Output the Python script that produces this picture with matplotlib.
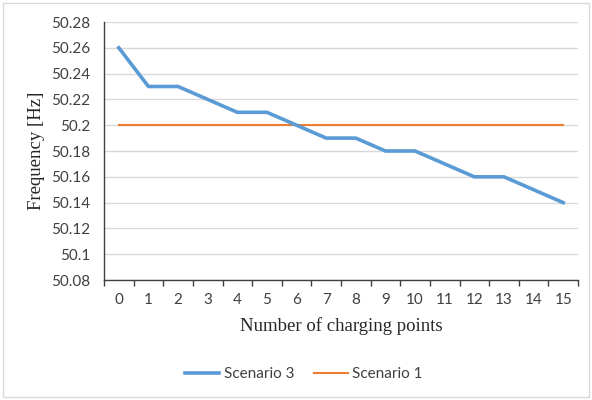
import numpy as np
import matplotlib
matplotlib.use("Agg")
import matplotlib.pyplot as plt
from matplotlib.patches import Rectangle

# charging points on the category axis
points = list(range(16))
scenario_3 = [50.26, 50.23, 50.23, 50.22, 50.21, 50.21, 50.20, 50.19,
              50.19, 50.18, 50.18, 50.17, 50.16, 50.16, 50.15, 50.14]
scenario_1 = [50.20] * 16
y_ticks = [50.08, 50.10, 50.12, 50.14, 50.16, 50.18, 50.20, 50.22, 50.24, 50.26, 50.28]
y_tick_labels = ["50.08", "50.1", "50.12", "50.14", "50.16", "50.18",
                 "50.2", "50.22", "50.24", "50.26", "50.28"]

BLUE = "#5B9BD5"
ORANGE = "#ED7D31"
SANS = ["Lato", "DejaVu Sans"]
SERIF = ["Liberation Serif", "DejaVu Serif"]

fig = plt.figure(figsize=(5.92, 4.0), dpi=100, facecolor="white")
ax = fig.add_axes([104 / 592, 1 - 280 / 400, (578 - 104) / 592, (280 - 22) / 400])

# outer chart border
fig.patches.append(Rectangle((3 / 592, 3 / 400), 586 / 592, 394 / 400,
                             transform=fig.transFigure, fill=False,
                             edgecolor="#D9D9D9", linewidth=1.0))

x = np.array(points)
l3, = ax.plot(x, scenario_3, color=BLUE, linewidth=2.6, solid_joinstyle="round",
              label="Scenario 3", zorder=3)
l1, = ax.plot(x, scenario_1, color=ORANGE, linewidth=1.5, label="Scenario 1", zorder=2)

ax.set_xlim(-0.5, 15.5)
ax.set_ylim(50.08, 50.28)
ax.set_yticks(y_ticks)
ax.set_yticklabels(y_tick_labels, fontsize=11, family=SANS, color="#404040")
ax.set_xticks(np.arange(-0.5, 16, 1.0))
ax.set_xticklabels([])
ax.set_xticks(x, minor=True)
ax.set_xticklabels([str(p) for p in points], minor=True, fontsize=11,
                   family=SANS, color="#404040")
ax.tick_params(axis="x", which="major", direction="out", length=4, width=1.0, color="#404040")
ax.tick_params(axis="x", which="minor", length=0, pad=9)
ax.tick_params(axis="y", length=0, pad=10)

ax.grid(axis="y", color="#D9D9D9", linewidth=1.0, zorder=0)
ax.set_axisbelow(True)
for side in ["top", "right"]:
    ax.spines[side].set_visible(False)
ax.spines["left"].set_color("#404040")
ax.spines["bottom"].set_color("#404040")
ax.spines["left"].set_linewidth(1.0)
ax.spines["bottom"].set_linewidth(1.0)

ax.set_ylabel("Frequency [Hz]", fontsize=13.5, family=SERIF, color="#262626", labelpad=4)
ax.set_xlabel("Number of charging points", fontsize=13.5, family=SERIF, color="#262626", labelpad=8)

fig.legend(handles=[l3, l1], loc="center", bbox_to_anchor=(304 / 592, 1 - 374 / 400),
           ncol=2, frameon=False, prop={"family": SANS, "size": 11},
           handlelength=2.2, handletextpad=0.3, columnspacing=1.3, labelcolor="#404040")

fig.savefig("out.png", dpi=100, facecolor="white")
